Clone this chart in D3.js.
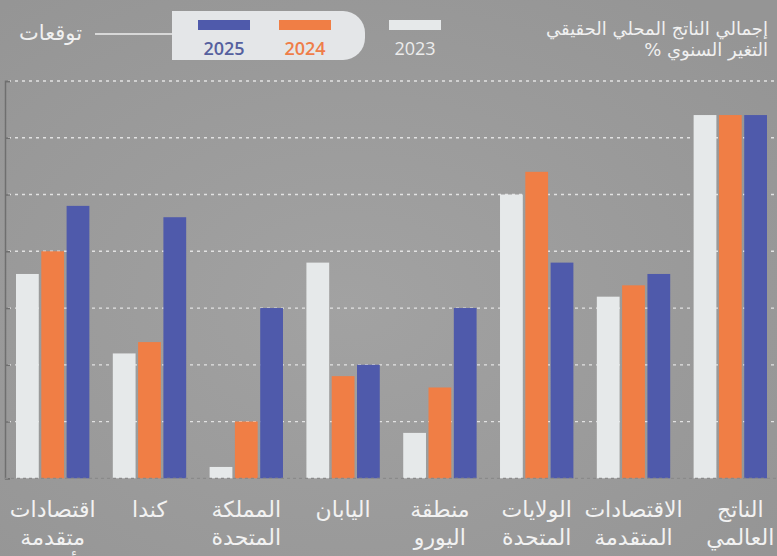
<!DOCTYPE html>
<html lang="ar">
<head>
<meta charset="utf-8">
<script src="https://cdn.jsdelivr.net/npm/d3@7"></script>
<style>
  html, body { margin: 0; padding: 0; background: #9a9a9a; }
  svg { display: block; }
</style>
</head>
<body>
<svg id="chart" width="777" height="556"></svg>
<script>
// ---- data ----
const categories = [
  ["الناتج", "العالمي"],
  ["الاقتصادات", "المتقدمة"],
  ["الولايات", "المتحدة"],
  ["منطقة", "اليورو"],
  ["اليابان"],
  ["المملكة", "المتحدة"],
  ["كندا"],
  ["اقتصادات", "متقدمة", "أخرى"]
];
const years = ["2023", "2024", "2025"];
const values2023 = [3.2, 1.6, 2.5, 0.4, 1.9, 0.1, 1.1, 1.8];
const values2024 = [3.2, 1.7, 2.7, 0.8, 0.9, 0.5, 1.2, 2.0];
const values2025 = [3.2, 1.8, 1.9, 1.5, 1.0, 1.5, 2.3, 2.4];
const yTicks = [0.5, 1, 1.5, 2, 2.5, 3, 3.5];
const titleLines = ["إجمالي الناتج المحلي الحقيقي", "التغير السنوي %"];
const forecastLabel = "توقعات";

const colors = { "2023": "#e6e9ea", "2024": "#f07e45", "2025": "#4f5aab" };
const series = { "2023": values2023, "2024": values2024, "2025": values2025 };

const svg = d3.select("#chart");
const W = 777, H = 556;
const arabicFont = "'DejaVu Sans', sans-serif";

// background
svg.append("rect").attr("width", W).attr("height", H).attr("fill", "#9a9a9a");
const defs = svg.append("defs");
const g1 = defs.append("radialGradient").attr("id", "bgGrad").attr("cx", "45%").attr("cy", "55%").attr("r", "70%");
g1.append("stop").attr("offset", "0%").attr("stop-color", "#a2a2a2");
g1.append("stop").attr("offset", "100%").attr("stop-color", "#959595");
svg.append("rect").attr("width", W).attr("height", H).attr("fill", "url(#bgGrad)");

// scales
const idx = d3.range(categories.length);
const x0 = d3.scaleBand()
  .domain(idx.slice().reverse())   // RTL: first category on the right
  .range([16, 767])
  .paddingInner(0.242)
  .paddingOuter(0);
const x1 = d3.scaleBand()
  .domain(years)
  .range([0, x0.bandwidth()])
  .paddingInner(0.1);
const y = d3.scaleLinear().domain([0, 3.5]).range([478.3, 81]);

// gridlines
svg.append("g").selectAll("line").data(yTicks).join("line")
  .attr("x1", 8).attr("x2", W)
  .attr("y1", d => y(d)).attr("y2", d => y(d))
  .attr("stroke", "#eeeeee").attr("stroke-opacity", 0.85)
  .attr("stroke-width", 1.3).attr("stroke-dasharray", "3,4");

// left axis
const yAxis = d3.axisLeft(y).tickValues([0].concat(yTicks)).tickSize(-5).tickFormat("");
const ax = svg.append("g").attr("transform", "translate(5,0)").call(yAxis);
ax.select(".domain").attr("stroke", "#6f6f6f").attr("stroke-width", 1.5);
ax.selectAll(".tick line").attr("stroke", "#6f6f6f").attr("stroke-width", 1.5);

// bars
const groups = svg.append("g").selectAll("g").data(idx).join("g")
  .attr("transform", i => `translate(${x0(i)},0)`);
groups.selectAll("rect")
  .data(i => years.map(yr => ({ yr, v: series[yr][i] })))
  .join("rect")
  .attr("x", d => x1(d.yr))
  .attr("width", x1.bandwidth())
  .attr("y", d => y(d.v))
  .attr("height", d => y(0) - y(d.v))
  .attr("fill", d => colors[d.yr]);

// baseline
svg.append("line").attr("x1", 5).attr("x2", W).attr("y1", y(0)).attr("y2", y(0))
  .attr("stroke", "#8a8a8a").attr("stroke-width", 1.2).attr("stroke-dasharray", "3,3");

// category labels
const lab = svg.append("g").selectAll("text").data(idx).join("text")
  .attr("x", i => x0(i) + x0.bandwidth() / 2 + (i === 0 ? 10 : 0))
  .attr("y", 517)
  .attr("text-anchor", "middle")
  .attr("direction", "rtl")
  .attr("font-family", arabicFont)
  .attr("font-size", 22)
  .attr("fill", "#f2f2f2");
lab.selectAll("tspan").data(i => categories[i]).join("tspan")
  .attr("x", function () { return d3.select(this.parentNode).attr("x"); })
  .attr("dy", (d, j) => j === 0 ? 0 : 28)
  .text(d => d);

// title
svg.append("g").selectAll("text").data(titleLines).join("text")
  .attr("x", 768).attr("y", (d, j) => 35 + j * 21)
  .attr("text-anchor", "start")
  .attr("direction", "rtl")
  .attr("font-family", arabicFont)
  .attr("font-size", 18)
  .attr("fill", "#f0f0f0")
  .text(d => d);

// legend
const pill = d3.path();
const px0 = 172, px1 = 365, py0 = 11, py1 = 60, r = 22;
pill.moveTo(px0, py0);
pill.lineTo(px1 - r, py0);
pill.arcTo(px1, py0, px1, py0 + r, r);
pill.lineTo(px1, py1 - r);
pill.arcTo(px1, py1, px1 - r, py1, r);
pill.lineTo(px0, py1);
pill.closePath();
svg.append("path").attr("d", pill.toString()).attr("fill", "#e4e6e8");

const legendItems = [
  { yr: "2025", cx: 224, text: "#55609e", bold: 600 },
  { yr: "2024", cx: 305, text: "#ef7d48", bold: 600 },
  { yr: "2023", cx: 415, text: "#ececec", bold: 400 }
];
const lg = svg.append("g").selectAll("g").data(legendItems).join("g");
lg.append("rect")
  .attr("x", d => d.cx - 26).attr("y", 20).attr("width", 52).attr("height", 10)
  .attr("fill", d => colors[d.yr]);
lg.append("text")
  .attr("x", d => d.cx).attr("y", 55)
  .attr("text-anchor", "middle")
  .attr("font-family", "'Open Sans', 'DejaVu Sans', sans-serif")
  .attr("font-weight", d => d.bold)
  .attr("font-size", 18)
  .attr("fill", d => d.text)
  .text(d => d.yr);

svg.append("line").attr("x1", 95).attr("x2", 172).attr("y1", 34).attr("y2", 34)
  .attr("stroke", "#eeeeee").attr("stroke-width", 1.5);
svg.append("text")
  .attr("x", 82).attr("y", 40)
  .attr("text-anchor", "start")
  .attr("direction", "rtl")
  .attr("font-family", arabicFont)
  .attr("font-size", 21)
  .attr("fill", "#f0f0f0")
  .text(forecastLabel);
</script>
</body>
</html>
